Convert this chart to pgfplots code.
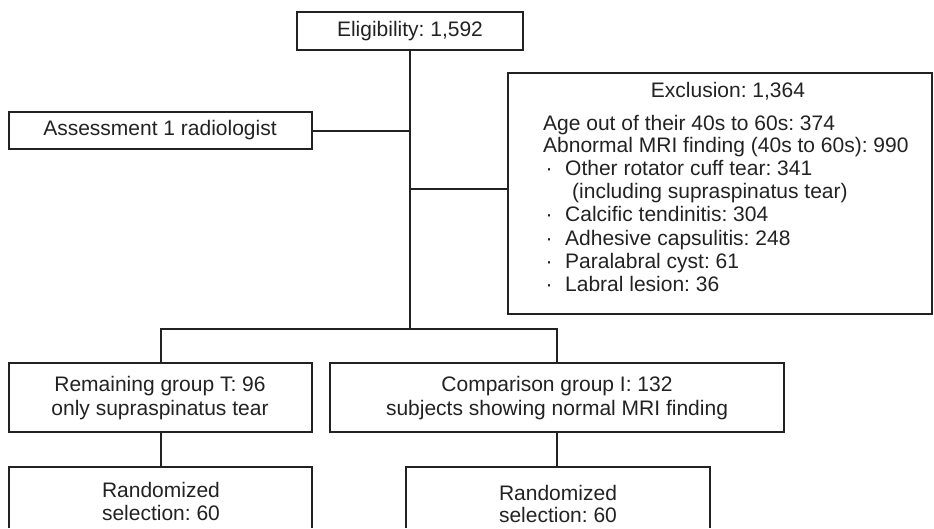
\documentclass[border=0pt]{standalone}
\usepackage{pgfplots}
\pgfplotsset{compat=1.18}
\usepackage{fontspec}
\setmainfont{Liberation Sans}
\definecolor{ink}{HTML}{222222}
\begin{document}
\frenchspacing
\begin{tikzpicture}[
  lab/.style={font=\fontsize{21}{25}\selectfont, text=ink, inner sep=0pt, anchor=base},
  labw/.style={lab, anchor=base west},
  box/.style={draw=ink, line width=1.3pt}]
\begin{axis}[
  width=934pt, height=528pt, scale only axis,
  xmin=0, xmax=934, ymin=0, ymax=528, y dir=reverse,
  axis lines=none, ticks=none, clip=true]
% keep the full canvas in the bounding box
\path (axis cs:0,0) rectangle (axis cs:934,528);
% connectors
\draw[box] (axis cs:410,50) -- (axis cs:410,329);
\draw[box] (axis cs:312,131) -- (axis cs:410,131);
\draw[box] (axis cs:410,189) -- (axis cs:508,189);
\draw[box] (axis cs:161,363) -- (axis cs:161,329) -- (axis cs:557,329) -- (axis cs:557,363);
\draw[box] (axis cs:161,432) -- (axis cs:161,467);
\draw[box] (axis cs:557,432) -- (axis cs:557,467);
% boxes
\draw[box] (axis cs:297,12) rectangle (axis cs:523,50);
\draw[box] (axis cs:9,112) rectangle (axis cs:312,149);
\draw[box] (axis cs:508,73) rectangle (axis cs:932,314);
\draw[box] (axis cs:9,363) rectangle (axis cs:312,432);
\draw[box] (axis cs:330,363) rectangle (axis cs:784,432);
% bottom boxes run off the lower edge
\draw[box] (axis cs:9,528) -- (axis cs:9,467) -- (axis cs:312,467) -- (axis cs:312,528);
\draw[box] (axis cs:406,528) -- (axis cs:406,467) -- (axis cs:710,467) -- (axis cs:710,528);
% texts
\node[lab] at (axis cs:410,36.5) {Eligibility: 1,592};
\node[lab] at (axis cs:160,135.7) {Assessment 1 radiologist};
\node[lab] at (axis cs:728,97.3) {Exclusion: 1,364};
\node[labw] at (axis cs:543,130) {Age out of their 40s to 60s: 374};
\node[labw] at (axis cs:543,152.5) {Abnormal MRI finding (40s to 60s): 990};
\node[lab] at (axis cs:549,175) {·};
\node[labw] at (axis cs:565,175) {Other rotator cuff tear: 341};
\node[labw] at (axis cs:572,198) {(including supraspinatus tear)};
\node[lab] at (axis cs:549,221.5) {·};
\node[labw] at (axis cs:565,221.5) {Calcific tendinitis: 304};
\node[lab] at (axis cs:549,245) {·};
\node[labw] at (axis cs:565,245) {Adhesive capsulitis: 248};
\node[lab] at (axis cs:549,268) {·};
\node[labw] at (axis cs:565,268) {Paralabral cyst: 61};
\node[lab] at (axis cs:549,291.5) {·};
\node[labw] at (axis cs:565,291.5) {Labral lesion: 36};
\node[lab] at (axis cs:160,391.7) {Remaining group T: 96};
\node[lab] at (axis cs:160,415) {only supraspinatus tear};
\node[lab] at (axis cs:557,391.7) {Comparison group I: 132};
\node[lab] at (axis cs:557,415) {subjects showing normal MRI finding};
\node[lab] at (axis cs:161,497) {Randomized};
\node[lab] at (axis cs:161,520) {selection: 60};
\node[lab] at (axis cs:558,500) {Randomized};
\node[lab] at (axis cs:558,522) {selection: 60};
\end{axis}
\end{tikzpicture}
\end{document}
